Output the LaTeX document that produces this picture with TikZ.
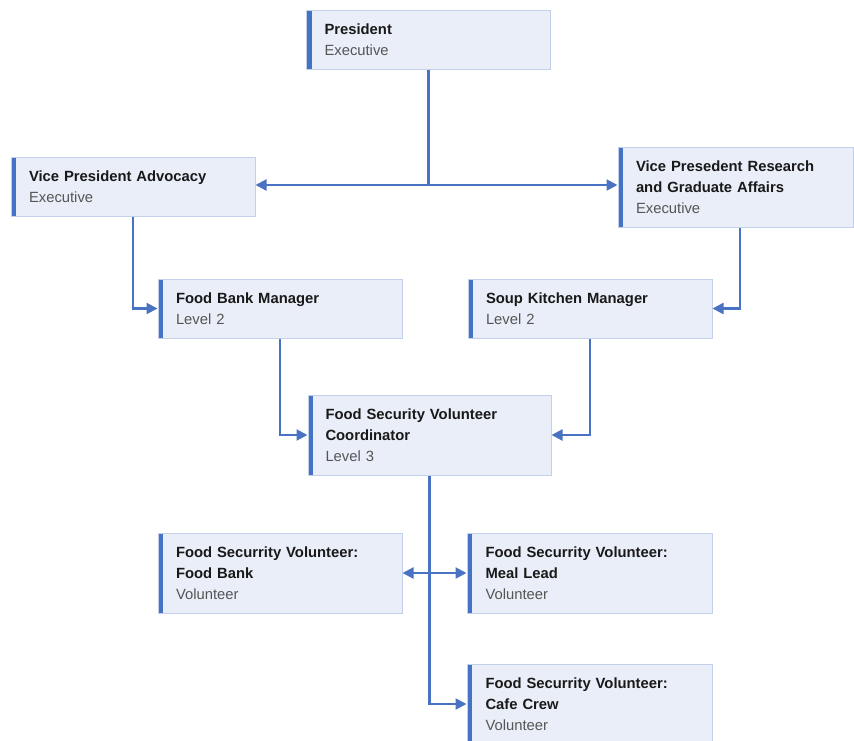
\documentclass[tikz,border=0pt]{standalone}
\usepackage{fontspec}
\setmainfont{Liberation Sans}
\usepackage{tikz}
\usetikzlibrary{arrows.meta}

\definecolor{boxfill}{HTML}{E9EEF8}
\definecolor{boxline}{HTML}{C3D0EA}
\definecolor{accent}{HTML}{4472C4}
\definecolor{linkcol}{HTML}{4A72C2}
\definecolor{subgray}{HTML}{555555}

\begin{document}
\begin{tikzpicture}
	[x=1pt,y=-1pt,>={Triangle[length=11pt,width=11pt]},
		link/.style={draw=linkcol,line width=2.2pt},
		role node/.style={rectangle,draw=boxline,line width=1pt,fill=boxfill,
			minimum width=244pt,minimum height=59pt,inner sep=0pt,
			text width=208pt,align=left,text=black!90,
			font=\fontsize{14.8}{21}\selectfont,
			path picture={\fill[accent] (path picture bounding box.north west)
				rectangle ([xshift=5pt]path picture bounding box.south west);}},
		tall node/.style={role node,minimum height=80pt}]

	\useasboundingbox (0,0) rectangle (854,740);

	\node[role node] (P)  at (428.5,39.5) {\textbf{President}\\{\color{subgray}Executive}};
	\node[role node] (VA) at (133,186.5)  {\textbf{Vice President Advocacy}\\{\color{subgray}Executive}};
	\node[tall node,minimum width=235pt,text width=199pt] (VR) at (735.5,187)
		{\textbf{Vice Presedent Research}\\\textbf{and Graduate Affairs}\\{\color{subgray}Executive}};
	\node[role node] (FB) at (280,308.5)  {\textbf{Food Bank Manager}\\{\color{subgray}Level 2}};
	\node[role node] (SK) at (590,308.5)  {\textbf{Soup Kitchen Manager}\\{\color{subgray}Level 2}};
	\node[tall node,minimum width=243pt] (C) at (429.5,435)
		{\textbf{Food Security Volunteer}\\\textbf{Coordinator}\\{\color{subgray}Level 3}};
	\node[tall node] (V1) at (280,573)
		{\textbf{Food Securrity Volunteer:}\\\textbf{Food Bank}\\{\color{subgray}Volunteer}};
	\node[tall node,minimum width=245pt] (V2) at (589.5,573)
		{\textbf{Food Securrity Volunteer:}\\\textbf{Meal Lead}\\{\color{subgray}Volunteer}};
	\node[tall node,minimum width=245pt] (V3) at (589.5,704)
		{\textbf{Food Securrity Volunteer:}\\\textbf{Cafe Crew}\\{\color{subgray}Volunteer}};

	\coordinate (split) at (P.south |- 0,185);

	% executive level
	\draw[link] (P.south) -- (split);
	\draw[link,->] (split) -- (VA.east |- split);
	\draw[link,->] (split) -- (VR.west |- split);
	% managers
	\draw[link,->] (VA.south) |- (FB.west);
	\draw[link,->] ([xshift=4.5pt]VR.south) |- (SK.east);
	\draw[link,->] (FB.south) |- (C.west);
	\draw[link,->] (SK.south) |- (C.east);
	% volunteers
	\draw[link,->] (C.south) |- (V3.west);
	\draw[link,<->] (V1.east) -- (V2.west);

\end{tikzpicture}
\end{document}
